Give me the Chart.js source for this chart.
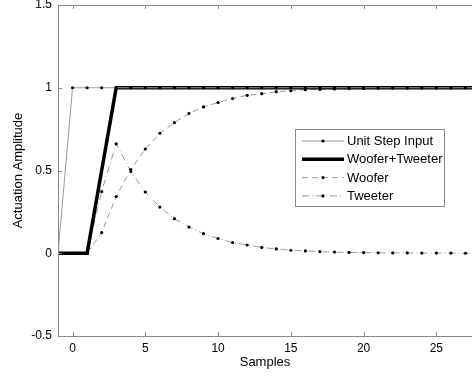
<!DOCTYPE html>
<html>
<head>
<meta charset="utf-8">
<script src="https://cdn.jsdelivr.net/npm/chart.js@4/dist/chart.umd.min.js"></script>
<style>
  html, body { margin: 0; padding: 0; background: #fff; }
  #wrap { width: 472px; height: 377px; }
</style>
</head>
<body>
<div id="wrap"><canvas id="ActuationChart" width="472" height="377"></canvas></div>
<script>
// samples -1 .. 28
var samples = [-1, 0, 1, 2, 3, 4, 5, 6, 7, 8, 9, 10, 11, 12, 13, 14, 15, 16, 17, 18, 19, 20, 21, 22, 23, 24, 25, 26, 27, 28];
var unitStep = [0, 1, 1, 1, 1, 1, 1, 1, 1, 1, 1, 1, 1, 1, 1, 1, 1, 1, 1, 1, 1, 1, 1, 1, 1, 1, 1, 1, 1, 1];
var wooferTweeter = [0, 0, 0, 0.5, 1, 1, 1, 1, 1, 1, 1, 1, 1, 1, 1, 1, 1, 1, 1, 1, 1, 1, 1, 1, 1, 1, 1, 1, 1, 1];
var woofer = [0, 0, 0, 0.125, 0.343, 0.506, 0.63, 0.725, 0.789, 0.845, 0.884, 0.911, 0.935, 0.954, 0.964, 0.976, 0.982, 0.988, 0.99, 0.993, 0.995, 0.996, 0.997, 0.998, 0.998, 0.999, 0.999, 0.999, 1, 1];
var tweeter = [0, 0, 0, 0.373, 0.661, 0.494, 0.37, 0.279, 0.209, 0.158, 0.118, 0.089, 0.065, 0.05, 0.035, 0.026, 0.018, 0.014, 0.01, 0.007, 0.005, 0.004, 0.003, 0.002, 0.002, 0.001, 0.001, 0.001, 0, 0];
var xTicks = [0, 5, 10, 15, 20, 25];
var yTicks = [-0.5, 0, 0.5, 1, 1.5];

function toPoints(ys) {
    return samples.map(function (x, i) { return { x: x, y: ys[i] }; });
}

var FONT = 'Liberation Sans, Arial, sans-serif';

// matlab style box with inward ticks + legend inside the plot
var matlabAxes = {
    id: 'matlabAxes',
    afterDatasetsDraw: function (chart) {
        var ctx = chart.ctx;
        var a = chart.chartArea;
        var xs = chart.scales.x, ys = chart.scales.y;
        ctx.save();
        ctx.strokeStyle = '#8a8a8a';
        ctx.lineWidth = 1;
        ctx.beginPath();
        ctx.moveTo(a.right, a.top + 0.5);
        ctx.lineTo(a.left + 0.5, a.top + 0.5);
        ctx.lineTo(a.left + 0.5, a.bottom + 0.5);
        ctx.lineTo(a.right, a.bottom + 0.5);
        xTicks.forEach(function (t) {
            var px = Math.round(xs.getPixelForValue(t)) + 0.5;
            ctx.moveTo(px, a.bottom);
            ctx.lineTo(px, a.bottom - 4);
            ctx.moveTo(px, a.top);
            ctx.lineTo(px, a.top + 4);
        });
        yTicks.forEach(function (t) {
            var py = Math.round(ys.getPixelForValue(t)) + 0.5;
            ctx.moveTo(a.left, py);
            ctx.lineTo(a.left + 4, py);
        });
        ctx.stroke();

        // legend
        var bx = 295.5, by = 129.5, bw = 149, bh = 77;
        ctx.fillStyle = '#fff';
        ctx.fillRect(bx, by, bw, bh);
        ctx.strokeStyle = '#8a8a8a';
        ctx.strokeRect(bx, by, bw, bh);
        ctx.font = '13px ' + FONT;
        ctx.textBaseline = 'middle';
        chart.data.datasets.forEach(function (ds, i) {
            var y = 141 + i * 18.3;
            ctx.save();
            ctx.strokeStyle = ds.borderColor;
            ctx.lineWidth = ds.borderWidth;
            ctx.setLineDash(ds.borderDash || []);
            ctx.beginPath();
            ctx.moveTo(302, y);
            ctx.lineTo(344, y);
            ctx.stroke();
            ctx.restore();
            if (ds.pointRadius > 0) {
                ctx.fillStyle = '#000';
                ctx.beginPath();
                ctx.arc(323, y, ds.pointRadius, 0, Math.PI * 2);
                ctx.fill();
            }
            ctx.fillStyle = '#000';
            ctx.fillText(ds.label, 347, y + 0.5);
        });
        ctx.restore();
    }
};

var ctx = document.getElementById('ActuationChart').getContext('2d');
var myChart = new Chart(ctx, {
    type: 'line',
    data: {
        datasets: [{
            label: 'Unit Step Input',
            data: toPoints(unitStep),
            borderColor: '#9a9a9a',
            borderWidth: 1,
            pointRadius: 1.6,
            pointBackgroundColor: '#000',
            pointBorderWidth: 0
        }, {
            label: 'Woofer+Tweeter',
            data: toPoints(wooferTweeter),
            borderColor: '#000',
            borderWidth: 3.5,
            pointRadius: 0
        }, {
            label: 'Woofer',
            data: toPoints(woofer),
            borderColor: '#9a9a9a',
            borderWidth: 1,
            borderDash: [6, 4],
            pointRadius: 1.6,
            pointBackgroundColor: '#000',
            pointBorderWidth: 0
        }, {
            label: 'Tweeter',
            data: toPoints(tweeter),
            borderColor: '#9a9a9a',
            borderWidth: 1,
            borderDash: [7, 3, 1, 3],
            pointRadius: 1.6,
            pointBackgroundColor: '#000',
            pointBorderWidth: 0
        }]
    },
    options: {
        responsive: false,
        animation: false,
        layout: { autoPadding: false, padding: { top: 5, right: 0, left: 0, bottom: 0 } },
        plugins: {
            legend: { display: false },
            tooltip: { enabled: false }
        },
        scales: {
            x: {
                type: 'linear',
                min: -1,
                max: 27.45,
                grid: { display: false, drawTicks: false },
                border: { display: false },
                afterBuildTicks: function (scale) {
                    scale.ticks = xTicks.map(function (v) { return { value: v }; });
                },
                afterFit: function (scale) {
                    scale.height = 41;
                    scale.paddingLeft = 0;
                    scale.paddingRight = 0;
                },
                ticks: {
                    color: '#000', padding: 5, maxRotation: 0, font: { family: FONT, size: 12 },
                    callback: function (v) { return String(v); }
                },
                title: { display: true, text: 'Samples', color: '#000', padding: { top: 0, bottom: 7 }, font: { family: FONT, size: 13 } }
            },
            y: {
                min: -0.5,
                max: 1.5,
                grid: { display: false, drawTicks: false },
                border: { display: false },
                afterBuildTicks: function (scale) {
                    scale.ticks = yTicks.map(function (v) { return { value: v }; });
                },
                afterFit: function (scale) {
                    scale.width = 58;
                    scale.paddingTop = 0;
                    scale.paddingBottom = 0;
                },
                ticks: {
                    color: '#000', padding: 6, font: { family: FONT, size: 12 },
                    callback: function (v) { return String(v); }
                },
                title: { display: true, text: 'Actuation Amplitude', color: '#000', padding: { top: 11, bottom: 0 }, font: { family: FONT, size: 13 } }
            }
        }
    },
    plugins: [matlabAxes]
});
</script>
</body>
</html>
